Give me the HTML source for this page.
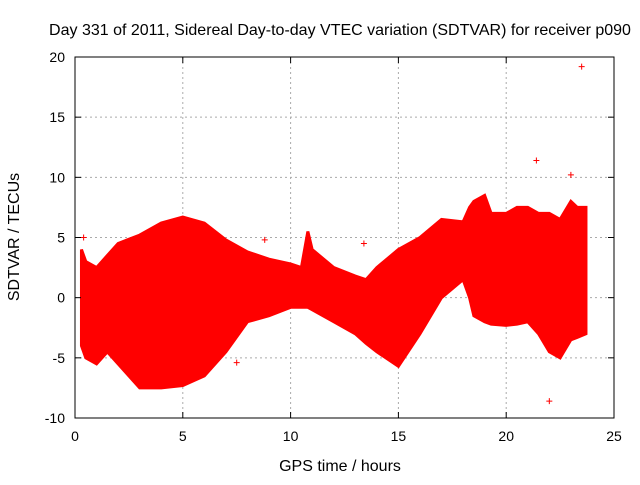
<!DOCTYPE html>
<html><head><meta charset="utf-8"><style>
body{margin:0;background:#fff}
svg text{font-family:"Liberation Sans",sans-serif;font-size:14px;fill:#000}
svg text.big{font-size:16px}
</style></head><body>
<svg id="c" width="640" height="480">
<rect width="640" height="480" fill="#fff"/>
<text class="big" x="340" y="35" text-anchor="middle">Day 331 of 2011, Sidereal Day-to-day VTEC variation (SDTVAR) for receiver p090</text>
<text class="big" x="340" y="471" text-anchor="middle">GPS time / hours</text>
<text class="big" transform="translate(19,237) rotate(-90)" text-anchor="middle">SDTVAR / TECUs</text>
<g id="grid"></g><g id="marks"></g><g id="axes"></g>
</svg>
<script>
const times=[0.3,0.5,1,1.5,2,3,4,5,6,7,8,9,10,10.5,10.8,11,12,13,13.5,14,15,16,17,18,18.3,18.5,19,19.3,20,20.5,21,21.5,22,22.5,23,23.3,23.7];
const upper=[4,3,2.5,3.5,4.5,5.2,6.2,6.7,6.2,4.8,3.8,3.2,2.8,2.5,5.5,4,2.5,1.8,1.5,2.5,4,5,6.5,6.3,7.5,8,8.5,7,7,7.5,7.5,7,7,6.5,8,7.5,7.5];
const lower=[-4,-5,-5.5,-4.5,-5.5,-7.5,-7.5,-7.3,-6.5,-4.5,-2,-1.5,-0.8,-0.8,-0.8,-1,-2,-3,-3.8,-4.5,-5.7,-3,0,1.5,0,-1.5,-2,-2.2,-2.3,-2.2,-2,-3,-4.5,-5,-3.5,-3.3,-3];
const outT=[21.4,22,23.5,23,0.4,7.5,8.8,13.4];
const outV=[11.4,-8.6,19.2,10.2,5,-5.4,4.8,4.5];
const xTicks=[0,5,10,15,20,25];
const yTicks=[-10,-5,0,5,10,15,20];
const L=75,R=614,T=57,B=418;
const X=v=>L+(v/25)*(R-L), Y=v=>B-(v+10)/30*(B-T);
const NS="http://www.w3.org/2000/svg";
function mk(tag,at,parent){const e=document.createElementNS(NS,tag);for(const k in at)e.setAttribute(k,at[k]);document.getElementById(parent).appendChild(e);return e;}
xTicks.forEach(v=>{
 if(v>0&&v<25){const g=mk('line',{x1:X(v),x2:X(v),y1:T,y2:B,stroke:'#aaa','stroke-dasharray':'2,3'},'grid');
 
 }
 const t=mk('text',{x:X(v),y:B+23,'text-anchor':'middle'},'axes');t.textContent=v;
 
 
 mk('line',{x1:X(v),x2:X(v),y1:B,y2:B-6,stroke:'#000'},'axes');
 mk('line',{x1:X(v),x2:X(v),y1:T,y2:T+6,stroke:'#000'},'axes');
});
yTicks.forEach(v=>{
 if(v>-10&&v<20){const g=mk('line',{x1:L,x2:R,y1:Y(v),y2:Y(v),stroke:'#aaa','stroke-dasharray':'2,3'},'grid');
 
 }
 const t=mk('text',{x:L-10,y:Y(v)+5,'text-anchor':'end'},'axes');t.textContent=v;
 
 
 mk('line',{x1:L,x2:L+6,y1:Y(v),y2:Y(v),stroke:'#000'},'axes');
 mk('line',{x1:R,x2:R-6,y1:Y(v),y2:Y(v),stroke:'#000'},'axes');
});
const fr=mk('rect',{x:L,y:T,width:R-L,height:B-T,fill:'none',stroke:'#000'},'axes');


let pts=times.map((t,i)=>X(t)+','+Y(upper[i]));
pts=pts.concat(times.map((t,i)=>X(t)+','+Y(lower[i])).reverse());
const band=mk('polygon',{points:pts.join(' '),fill:'#f00',stroke:'#f00','stroke-width':3},'marks');


outT.forEach((t,i)=>{
 const p=mk('path',{d:`M${X(t)-3},${Y(outV[i])}h6M${X(t)},${Y(outV[i])-3}v6`,stroke:'#f00','stroke-width':1},'marks');
 
 
});
</script>
</body></html>
